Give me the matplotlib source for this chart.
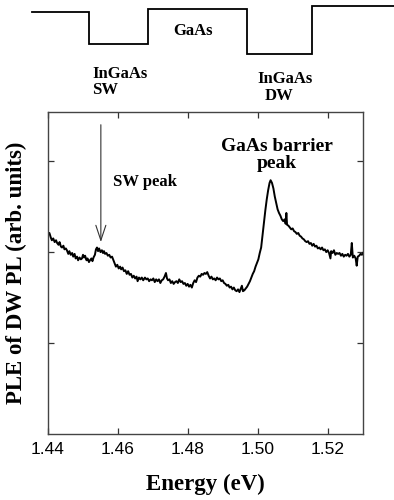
import numpy as np
import matplotlib
matplotlib.use('Agg')
import matplotlib.pyplot as plt

# ── PLE spectrum (energy in eV, intensity in arb. units) ──────────────────────
ENERGY = [
    1.4400, 1.4404, 1.4408, 1.4411, 1.4415, 1.4419, 1.4423, 1.4426, 1.4430, 1.4433,
    1.4437, 1.4440, 1.4444, 1.4447, 1.4451, 1.4454, 1.4458, 1.4461, 1.4465, 1.4469,
    1.4472, 1.4476, 1.4479, 1.4483, 1.4486, 1.4490, 1.4494, 1.4497, 1.4500, 1.4503,
    1.4506, 1.4510, 1.4513, 1.4517, 1.4520, 1.4524, 1.4527, 1.4530, 1.4534, 1.4537,
    1.4540, 1.4543, 1.4546, 1.4550, 1.4554, 1.4557, 1.4560, 1.4563, 1.4567, 1.4571,
    1.4575, 1.4579, 1.4583, 1.4586, 1.4590, 1.4594, 1.4598, 1.4602, 1.4606, 1.4609,
    1.4613, 1.4617, 1.4621, 1.4625, 1.4629, 1.4633, 1.4637, 1.4641, 1.4645, 1.4649,
    1.4653, 1.4656, 1.4660, 1.4664, 1.4668, 1.4672, 1.4677, 1.4681, 1.4685, 1.4689,
    1.4693, 1.4697, 1.4701, 1.4705, 1.4709, 1.4713, 1.4717, 1.4721, 1.4725, 1.4729,
    1.4733, 1.4737, 1.4740, 1.4743, 1.4747, 1.4751, 1.4755, 1.4759, 1.4763, 1.4767,
    1.4771, 1.4775, 1.4779, 1.4783, 1.4787, 1.4791, 1.4795, 1.4799, 1.4803, 1.4807,
    1.4811, 1.4815, 1.4819, 1.4823, 1.4827, 1.4831, 1.4835, 1.4839, 1.4843, 1.4847,
    1.4851, 1.4855, 1.4859, 1.4863, 1.4867, 1.4871, 1.4875, 1.4879, 1.4883, 1.4887,
    1.4891, 1.4895, 1.4899, 1.4903, 1.4907, 1.4911, 1.4915, 1.4919, 1.4923, 1.4927,
    1.4931, 1.4935, 1.4939, 1.4943, 1.4947, 1.4951, 1.4954, 1.4957, 1.4961, 1.4965,
    1.4969, 1.4973, 1.4977, 1.4981, 1.4985, 1.4989, 1.4993, 1.4997, 1.5001, 1.5005,
    1.5009, 1.5013, 1.5017, 1.5021, 1.5025, 1.5029, 1.5033, 1.5036, 1.5040, 1.5044,
    1.5048, 1.5052, 1.5056, 1.5060, 1.5064, 1.5068, 1.5072, 1.5076, 1.5079, 1.5081,
    1.5083, 1.5087, 1.5091, 1.5095, 1.5099, 1.5103, 1.5107, 1.5111, 1.5115, 1.5119,
    1.5123, 1.5127, 1.5131, 1.5135, 1.5139, 1.5143, 1.5147, 1.5151, 1.5155, 1.5159,
    1.5163, 1.5167, 1.5171, 1.5175, 1.5179, 1.5183, 1.5187, 1.5191, 1.5195, 1.5199,
    1.5203, 1.5207, 1.5209, 1.5213, 1.5217, 1.5221, 1.5225, 1.5229, 1.5233, 1.5237,
    1.5241, 1.5245, 1.5249, 1.5253, 1.5257, 1.5261, 1.5265, 1.5268, 1.5271, 1.5275,
    1.5279, 1.5282, 1.5285, 1.5289, 1.5293, 1.5297, 1.5300,
]
PLE = [
    2.19, 2.21, 2.16, 2.13, 2.15, 2.11, 2.13, 2.10, 2.08, 2.11,
    2.06, 2.05, 2.07, 2.03, 2.04, 2.02, 1.98, 2.01, 1.97, 1.99,
    1.95, 1.98, 1.93, 1.95, 1.91, 1.94, 1.92, 1.93, 1.97, 1.94,
    1.96, 1.91, 1.93, 1.89, 1.91, 1.93, 1.90, 1.94, 1.97, 2.03,
    2.05, 2.01, 2.04, 2.00, 2.02, 1.99, 2.01, 1.98, 1.99, 1.96,
    1.97, 1.94, 1.95, 1.92, 1.88, 1.84, 1.86, 1.82, 1.84, 1.81,
    1.83, 1.79, 1.80, 1.76, 1.79, 1.75, 1.76, 1.72, 1.74, 1.71,
    1.73, 1.68, 1.72, 1.70, 1.72, 1.69, 1.72, 1.70, 1.71, 1.68,
    1.70, 1.69, 1.71, 1.67, 1.70, 1.68, 1.70, 1.66, 1.69, 1.70,
    1.73, 1.77, 1.71, 1.69, 1.70, 1.66, 1.68, 1.65, 1.67, 1.68,
    1.66, 1.70, 1.67, 1.68, 1.65, 1.66, 1.63, 1.65, 1.62, 1.64,
    1.61, 1.66, 1.69, 1.67, 1.72, 1.74, 1.73, 1.76, 1.75, 1.77,
    1.76, 1.78, 1.74, 1.71, 1.73, 1.70, 1.71, 1.69, 1.72, 1.70,
    1.71, 1.68, 1.69, 1.66, 1.65, 1.63, 1.64, 1.61, 1.62, 1.59,
    1.61, 1.58, 1.57, 1.59, 1.56, 1.60, 1.63, 1.57, 1.58, 1.60,
    1.62, 1.65, 1.68, 1.72, 1.76, 1.79, 1.84, 1.88, 1.92, 1.99,
    2.05, 2.19, 2.32, 2.46, 2.58, 2.68, 2.76, 2.79, 2.76, 2.70,
    2.61, 2.54, 2.47, 2.43, 2.40, 2.36, 2.34, 2.36, 2.31, 2.43,
    2.30, 2.29, 2.27, 2.25, 2.26, 2.23, 2.22, 2.20, 2.21, 2.18,
    2.17, 2.15, 2.14, 2.12, 2.11, 2.12, 2.09, 2.10, 2.07, 2.09,
    2.06, 2.07, 2.04, 2.05, 2.03, 2.05, 2.02, 2.03, 2.00, 2.02,
    1.99, 1.93, 2.01, 1.99, 2.02, 1.97, 1.99, 1.98, 1.99, 1.96,
    1.98, 1.95, 1.97, 1.96, 1.98, 1.95, 1.97, 2.10, 1.94, 1.96,
    1.93, 1.85, 1.95, 1.96, 1.98, 1.97, 1.99,
]

X_TICKS = [1.44, 1.46, 1.48, 1.50, 1.52]
X_TICK_LABELS = ['1.44', '1.46', '1.48', '1.50', '1.52']
Y_TICKS = [1, 2, 3]

# SW peak marker
SW_PEAK_E = 1.4551
SW_PEAK_V = 2.11

# ── band-edge schematic (figure pixels) ───────────────────────────────────────
BAND_EDGES = [32, 89, 148, 247, 312, 394]
BAND_LEVELS = [12, 44, 9, 54, 6]

SERIF = ['Liberation Serif', 'DejaVu Serif']
SANS = ['Liberation Sans', 'DejaVu Sans']

fig = plt.figure(figsize=(3.94, 5.0), dpi=100, facecolor='white')

# schematic layer across the whole figure, in pixel units
top = fig.add_axes([0, 0, 1, 1])
top.set_xlim(0, 394); top.set_ylim(500, 0)
top.axis('off')
bx = np.repeat(BAND_EDGES, 2)[1:-1]
by = np.repeat(BAND_LEVELS, 2)
top.plot(bx, by, color='black', lw=1.3, solid_joinstyle='miter')
top.text(193, 31, 'GaAs', family=SERIF, fontweight='bold', fontsize=12,
         ha='center', va='center')
top.text(92, 74, 'InGaAs', family=SERIF, fontweight='bold', fontsize=12,
         ha='left', va='center')
top.text(92, 90, 'SW', family=SERIF, fontweight='bold', fontsize=12,
         ha='left', va='center')
top.text(257, 79, 'InGaAs', family=SERIF, fontweight='bold', fontsize=12,
         ha='left', va='center')
top.text(265, 96, 'DW', family=SERIF, fontweight='bold', fontsize=12,
         ha='left', va='center')

# ── spectrum axes ─────────────────────────────────────────────────────────────
ax = fig.add_axes([48/394, 66/500, 315/394, 322/500])
ax.plot(ENERGY, PLE, color='black', lw=1.4)
ax.set_xlim(1.44, 1.53)
ax.set_ylim(0, 3.54)
ax.set_xticks(X_TICKS)
ax.set_xticklabels(X_TICK_LABELS, family=SANS, fontsize=12.5)
ax.set_yticks(Y_TICKS)
ax.set_yticklabels([])
ax.tick_params(direction='in', length=4, width=0.9, top=True, right=True,
               colors='#333333', pad=6)
ax.tick_params(axis='x', labelcolor='black')
for s in ax.spines.values():
    s.set_color('#444444'); s.set_linewidth(1.0)

ax.set_xlabel('Energy (eV)', family=SERIF, fontweight='bold', fontsize=16.5,
              labelpad=12)
ax.set_ylabel('PLE of DW PL (arb. units)', family=SERIF, fontweight='bold',
              fontsize=16.5, labelpad=9)

ax.annotate('', xy=(SW_PEAK_E, SW_PEAK_V), xytext=(SW_PEAK_E, 3.40),
            arrowprops=dict(arrowstyle='->,head_length=0.9,head_width=0.3',
                            lw=0.8, color='#333333', mutation_scale=12,
                            shrinkA=0, shrinkB=0))
ax.text(1.4677, 2.77, 'SW peak', family=SERIF, fontweight='bold', fontsize=12,
        ha='center', va='center')
ax.text(1.5054, 3.07, 'GaAs barrier\npeak', family=SERIF, fontweight='bold',
        fontsize=14, ha='center', va='center', linespacing=1.0)

fig.savefig('out.png', dpi=100, facecolor='white')
